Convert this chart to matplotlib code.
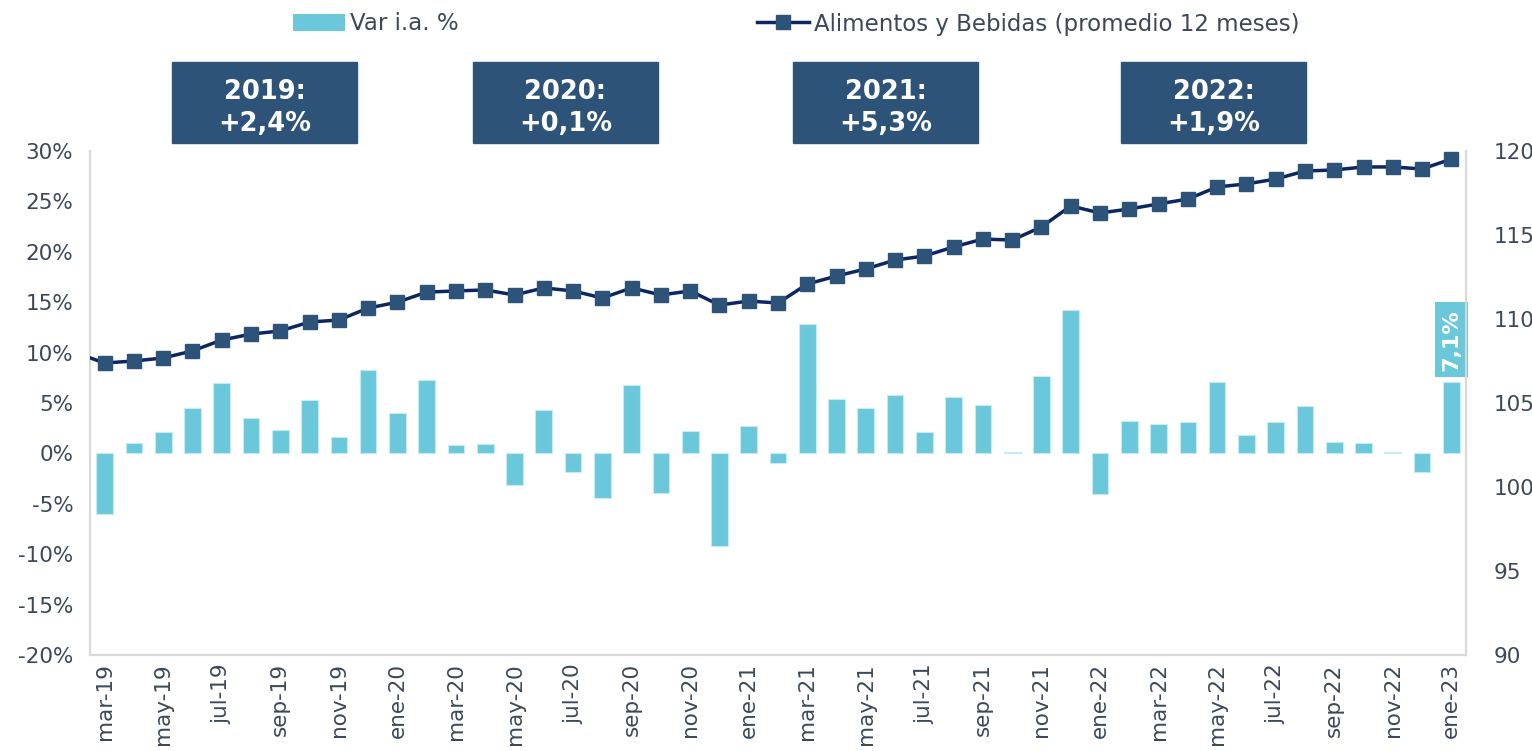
import matplotlib.pyplot as plt
import numpy as np
from matplotlib.patches import Patch
from matplotlib.lines import Line2D

# meses mar-19 .. ene-23
meses = ['mar-19', 'abr-19', 'may-19', 'jun-19', 'jul-19', 'ago-19', 'sep-19', 'oct-19', 'nov-19', 'dic-19',
         'ene-20', 'feb-20', 'mar-20', 'abr-20', 'may-20', 'jun-20', 'jul-20', 'ago-20', 'sep-20', 'oct-20',
         'nov-20', 'dic-20', 'ene-21', 'feb-21', 'mar-21', 'abr-21', 'may-21', 'jun-21', 'jul-21', 'ago-21',
         'sep-21', 'oct-21', 'nov-21', 'dic-21', 'ene-22', 'feb-22', 'mar-22', 'abr-22', 'may-22', 'jun-22',
         'jul-22', 'ago-22', 'sep-22', 'oct-22', 'nov-22', 'dic-22', 'ene-23']

var_ia = [-6.0, 1.0, 2.1, 4.5, 7.0, 3.5, 2.3, 5.3, 1.6, 8.3,
          4.0, 7.3, 0.8, 0.9, -3.1, 4.3, -1.8, -4.4, 6.8, -3.9,
          2.2, -9.2, 2.7, -1.0, 12.8, 5.4, 4.5, 5.8, 2.1, 5.6,
          4.8, 0.1, 7.7, 14.2, -4.0, 3.2, 2.9, 3.1, 7.1, 1.8,
          3.1, 4.7, 1.1, 1.0, 0.1, -1.8, 7.1]

# promedio 12 meses, first value is feb-19 (only its segment is visible)
promedio = [108.0,
            107.38, 107.5, 107.68, 108.1, 108.75, 109.1, 109.29, 109.82, 109.94, 110.65,
            111.0, 111.6, 111.67, 111.73, 111.43, 111.85, 111.67, 111.25, 111.85, 111.43,
            111.67, 110.83, 111.07, 110.95, 112.08, 112.56, 112.98, 113.51, 113.75, 114.29,
            114.76, 114.7, 115.48, 116.73, 116.31, 116.55, 116.85, 117.14, 117.86, 118.04,
            118.33, 118.81, 118.87, 119.05, 119.05, 118.93, 119.52]

anios = ['2019:\n+2,4%', '2020:\n+0,1%', '2021:\n+5,3%', '2022:\n+1,9%']
etiqueta_final = '7,1%'

bar_color = '#6AC8DA'
line_color = '#0B2660'
marker_color = '#2D5478'
box_color = '#2D5478'
txt_color = '#3C4858'
spine_color = '#D9D9D9'

plt.rcParams['font.family'] = 'DejaVu Sans'

fig = plt.figure(figsize=(15.32, 7.51), dpi=100)
ax = fig.add_axes([90 / 1532, 1 - 655 / 751, (1466 - 90) / 1532, (655 - 151) / 751])
ax2 = ax.twinx()

x = np.arange(len(meses))
ax.bar(x, var_ia, width=0.57, color=bar_color, edgecolor='#C6ECF3', linewidth=0.8, zorder=2)

x_line = np.arange(-1, len(meses))
ax2.plot(x_line, promedio, color=line_color, lw=2.5, marker='s', markersize=9.5,
         markerfacecolor=marker_color, markeredgecolor=marker_color, zorder=3)

ax.set_xlim(-0.5, len(meses) - 0.5)
ax.set_ylim(-20, 30)
ax2.set_ylim(90, 120)

ax.set_yticks(np.arange(-20, 31, 5))
ax.set_yticklabels([f'{v}%' for v in range(-20, 31, 5)])
ax2.set_yticks(np.arange(90, 121, 5))
ax.set_xticks(x[::2])
ax.set_xticklabels(meses[::2], rotation=90)

for a in (ax, ax2):
    a.tick_params(length=0, labelsize=15.5, labelcolor=txt_color)
    a.spines['top'].set_visible(False)
    for s in ('left', 'right', 'bottom'):
        a.spines[s].set_color(spine_color)
        a.spines[s].set_linewidth(1.5)
ax.tick_params(axis='y', pad=12)
ax.tick_params(axis='x', pad=6)
ax2.tick_params(axis='y', pad=20)

# last value label
ax.annotate(etiqueta_final, (x[-1], var_ia[-1]), xytext=(0, 8), textcoords='offset points',
            rotation=90, ha='center', va='bottom', color='white', fontsize=16, fontweight='bold',
            bbox=dict(boxstyle='square,pad=0.3', fc=bar_color, ec='none'), zorder=5,
            annotation_clip=False)

# year boxes
box_x = [172, 473, 793, 1121]
for bx, t in zip(box_x, anios):
    fig.patches.append(plt.Rectangle((bx / 1532, 1 - 143 / 751), 185 / 1532, 81 / 751,
                                     transform=fig.transFigure, color=box_color))
    fig.text((bx + 92.5) / 1532, 1 - 108 / 751, t, ha='center', va='center', color='white',
             fontsize=18.5, fontweight='bold', linespacing=1.3)

handles = [Patch(facecolor=bar_color, edgecolor='none'),
           Line2D([0], [0], color=line_color, lw=2.5, marker='s', markersize=9.5,
                  markerfacecolor=marker_color, markeredgecolor=marker_color)]
fig.legend(handles, ['Var i.a. %', 'Alimentos y Bebidas (promedio 12 meses)'],
           loc='center left', bbox_to_anchor=(293 / 1532, 1 - 24 / 751), ncol=2, frameon=False,
           fontsize=16.5, labelcolor=txt_color, handlelength=2.27, handletextpad=0.22,
           columnspacing=13.0, borderaxespad=0, borderpad=0)

fig.savefig('out.png', dpi=100)
